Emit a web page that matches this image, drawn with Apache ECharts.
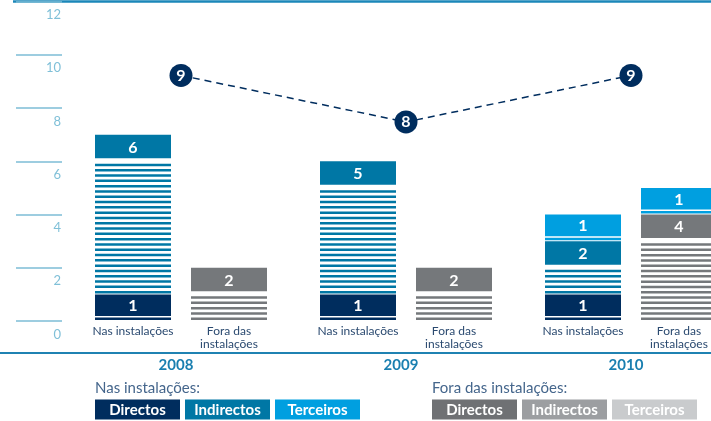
<!DOCTYPE html>
<html>
<head>
<meta charset="utf-8">
<script src="https://cdn.jsdelivr.net/npm/echarts@6/dist/echarts.min.js"></script>
<style>
  html, body { margin: 0; padding: 0; background: #fff; }
  #chart { width: 711px; height: 421px; }
</style>
</head>
<body>
<div id="chart"></div>
<script>
// valores
var years = ['2008', '2009', '2010']
var nasDirectos = [1, 1, 1]
var nasIndirectos = [6, 5, 2]
var nasTerceiros = [0, 0, 1]
var foraDirectos = [2, 2, 4]
var foraIndirectos = [0, 0, 0]
var foraTerceiros = [0, 0, 1]
var totais = [9, 8, 9]
var groupCaptions = ['Nas instalações', 'Fora das\ninstalações']
var legendTitles = ['Nas instalações:', 'Fora das instalações:']
var legendNames = ['Directos', 'Indirectos', 'Terceiros']

var NAVY = '#002d5e', TEAL = '#0077a5', SKY = '#009fe0'
var nasColors = [NAVY, TEAL, SKY]
var foraBarColors = ['#75787b', '#9c9ea1', SKY]
var foraLegendColors = ['#6f7174', '#9c9ea1', '#c9cbcd']
var FONT = 'Lato, "Open Sans", sans-serif'

var chart = echarts.init(document.getElementById('chart'))

// one stacked segment: solid header with the value + thin stripes below
function segment(group, name, values, lower, color) {
  var data = values.map(function (v, i) {
    var base = 0
    lower.forEach(function (arr) { base += arr[i] })
    return [i, base, v]
  })
  var shift = group === 0 ? -48 : 48
  return {
    type: 'custom',
    name: name,
    data: data,
    z: 2,
    renderItem: function (params, api) {
      var v = api.value(2)
      if (!v) return
      var cat = api.value(0)
      var base = api.value(1)
      var cx = api.coord([cat, 0])[0] + shift
      var yB = api.coord([cat, base])[1]
      var yT = api.coord([cat, base + v])[1]
      var w = 76
      var hh = Math.min(23.5, yB - yT - 5)
      var kids = [{ type: 'rect', shape: { x: cx - w / 2, y: yT, width: w, height: hh }, style: { fill: color } }]
      for (var b = yB - 1; b - 2.5 >= yT + hh + 1; b -= 5.3) {
        kids.push({ type: 'rect', shape: { x: cx - w / 2, y: b - 2.5, width: w, height: 2.5 }, style: { fill: color } })
      }
      kids.push({
        type: 'text',
        style: { text: String(v), x: cx, y: yT + hh / 2 + 1, align: 'center', verticalAlign: 'middle', fill: '#fff', font: 'bold 16px ' + FONT }
      })
      return { type: 'group', children: kids }
    }
  }
}

var captions = {
  type: 'custom',
  name: 'captions',
  data: years.map(function (y, i) { return [i] }),
  renderItem: function (params, api) {
    var p = api.coord([api.value(0), 0])
    return {
      type: 'group',
      children: groupCaptions.map(function (t, g) {
        return {
          type: 'text',
          style: { text: t, x: p[0] + (g === 0 ? -48 : 48), y: p[1] + 4, align: 'center', verticalAlign: 'top',
            fill: '#2b4a70', font: '12px ' + FONT, lineHeight: 13 }
        }
      })
    }
  }
}

// legenda em caixas
var legendGraphics = []
var legendX = [95, 432]
;[nasColors, foraLegendColors].forEach(function (cols, g) {
  legendGraphics.push({
    type: 'text', x: legendX[g], y: 388,
    style: { text: legendTitles[g], align: 'left', verticalAlign: 'middle', fill: '#45668c', font: '15px ' + FONT }
  })
  legendNames.forEach(function (n, k) {
    var x = legendX[g] + k * 90
    legendGraphics.push({ type: 'rect', shape: { x: x, y: 399.5, width: 85, height: 20 }, style: { fill: cols[k] } })
    legendGraphics.push({
      type: 'text', x: x + 42.5, y: 410,
      style: { text: n, align: 'center', verticalAlign: 'middle', fill: '#fff', font: 'bold 15px ' + FONT }
    })
  })
})

chart.setOption({
  animation: false,
  grid: { left: 68.5, width: 675, top: 1.5, height: 319.5, containLabel: false, outerBoundsMode: 'none' },
  xAxis: {
    type: 'category',
    data: years,
    axisLine: { show: false },
    axisTick: { show: false },
    axisLabel: { color: '#1a7fb0', fontWeight: 'bold', fontSize: 15, fontFamily: FONT, margin: 37, padding: [0, 10, 0, 0] }
  },
  yAxis: [{
    type: 'value', min: 0, max: 12, interval: 2, offset: 6.5,
    axisLine: { show: false },
    splitLine: { show: false },
    axisTick: { show: true, length: 46, lineStyle: { color: '#7dbdd6', width: 1.5 } },
    axisLabel: { color: '#80c0d8', fontSize: 13, fontFamily: FONT, margin: 1, verticalAlign: 'top', padding: [7, 0, 0, 0] }
  }, {
    type: 'value', min: 3.72, max: 10.59, show: false
  }],
  graphic: [
    { type: 'line', shape: { x1: 13, y1: 1.5, x2: 711, y2: 1.5 }, style: { stroke: '#1b87b9', lineWidth: 2.5 } },
    { type: 'line', shape: { x1: 0, y1: 353, x2: 711, y2: 353 }, style: { stroke: '#1f82b2', lineWidth: 2 } }
  ].concat(legendGraphics),
  series: [
    segment(0, 'nasDirectos', nasDirectos, [], nasColors[0]),
    segment(0, 'nasIndirectos', nasIndirectos, [nasDirectos], nasColors[1]),
    segment(0, 'nasTerceiros', nasTerceiros, [nasDirectos, nasIndirectos], nasColors[2]),
    segment(1, 'foraDirectos', foraDirectos, [], foraBarColors[0]),
    segment(1, 'foraIndirectos', foraIndirectos, [foraDirectos], foraBarColors[1]),
    segment(1, 'foraTerceiros', foraTerceiros, [foraDirectos, foraIndirectos], foraBarColors[2]),
    captions,
    {
      type: 'line', name: 'total', yAxisIndex: 1, data: totais, z: 5,
      symbol: 'circle', symbolSize: 23,
      itemStyle: { color: NAVY },
      lineStyle: { color: NAVY, width: 1.5, type: [7, 5] },
      label: { show: true, position: 'inside', color: '#fff', fontWeight: 'bold', fontSize: 16, fontFamily: FONT }
    }
  ]
})
</script>
</body>
</html>
